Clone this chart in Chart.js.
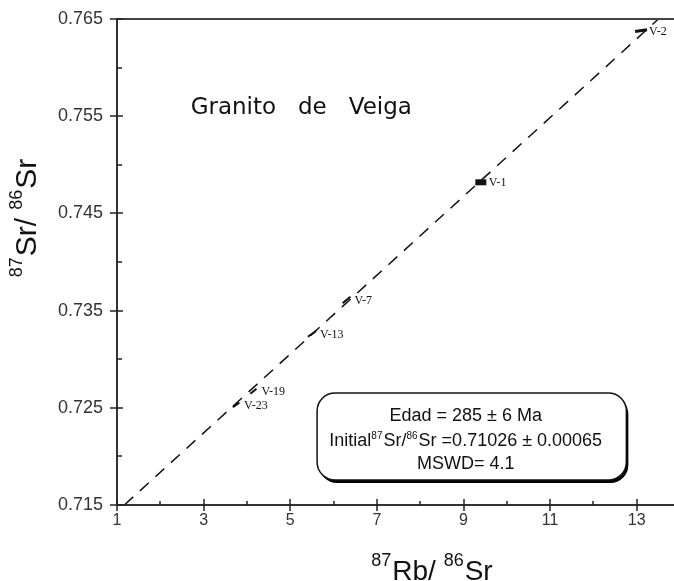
<!DOCTYPE html>
<html lang="es">
<head>
<meta charset="UTF-8">
<title>Granito de Veiga - isocrona Rb/Sr</title>
<script src="https://cdn.jsdelivr.net/npm/chart.js"></script>
<style>
  html, body { margin: 0; padding: 0; background: #fff; overflow: hidden; }
  canvas { display: block; }
</style>
</head>
<body>
<canvas id="iso" width="674" height="581"></canvas>
<script>
// muestras (87Rb/86Sr, 87Sr/86Sr)
const sampleNames = ['V-2', 'V-1', 'V-7', 'V-13', 'V-19', 'V-23'];
const rbSr = [13.1, 9.4, 6.3, 5.5, 4.15, 3.75];
const srSr = [0.7638, 0.7482, 0.7361, 0.7326, 0.7267, 0.7253];

// isocrona (extremos de la recta)
const isoX = [1.17, 13.5];
const isoY = [0.715, 0.765];

// ejes
const xMin = 1, xMax = 13.86;
const yMin = 0.715, yMax = 0.765;
const xLabels = [1, 3, 5, 7, 9, 11, 13];
const yLabels = [0.715, 0.725, 0.735, 0.745, 0.755, 0.765];

// textos
const plotTitle = 'Granito   de   Veiga';
const boxLines = ['Edad = 285 ± 6 Ma', 'Initial|87|Sr/|86|Sr =0.71026 ± 0.00065', 'MSWD= 4.1'];

// posicion del titulo y del recuadro (coordenadas de datos)
const titlePos = { x: 2.7, y: 0.7558 };
const boxPos = { x1: 5.62, x2: 12.76, y1: 0.72652, y2: 0.71757 };

const isLabelX = v => xLabels.some(l => Math.abs(l - v) < 1e-6);
const isLabelY = v => yLabels.some(l => Math.abs(l - v) < 1e-6);

// dibuja texto con superindices: partes alternas normal|sup|normal...
function partsWidth(ctx, parts, mainFont, supFont) {
  let w = 0;
  parts.forEach((p, i) => {
    ctx.font = i % 2 ? supFont : mainFont;
    w += ctx.measureText(p).width + (i % 2 ? 1 : 0);
  });
  return w;
}
function drawParts(ctx, parts, x, y, mainFont, supFont, rise) {
  let cx = x;
  parts.forEach((p, i) => {
    ctx.font = i % 2 ? supFont : mainFont;
    ctx.fillText(p, cx, i % 2 ? y - rise : y);
    cx += ctx.measureText(p).width + (i % 2 ? 1 : 0);
  });
}

const decor = {
  id: 'decor',
  afterDraw(chart) {
    const ctx = chart.ctx;
    const xs = chart.scales.x, ys = chart.scales.y;
    const a = chart.chartArea;
    ctx.save();

    // marco superior
    ctx.strokeStyle = '#444';
    ctx.lineWidth = 2;
    ctx.beginPath();
    ctx.moveTo(a.left, a.top);
    ctx.lineTo(a.right, a.top);
    ctx.stroke();

    // marcas de los ejes
    ctx.strokeStyle = '#222';
    ctx.lineWidth = 1.5;
    ys.ticks.forEach(t => {
      const py = Math.round(ys.getPixelForValue(t.value));
      ctx.beginPath();
      if (isLabelY(t.value)) { ctx.moveTo(a.left - 7, py); ctx.lineTo(a.left + 6, py); }
      else { ctx.moveTo(a.left, py); ctx.lineTo(a.left + 5, py); }
      ctx.stroke();
    });
    xs.ticks.forEach(t => {
      const px = Math.round(xs.getPixelForValue(t.value));
      ctx.beginPath();
      if (isLabelX(t.value)) { ctx.moveTo(px, a.bottom - 6); ctx.lineTo(px, a.bottom + 6); }
      else { ctx.moveTo(px, a.bottom - 4); ctx.lineTo(px, a.bottom); }
      ctx.stroke();
    });

    // etiquetas del eje x
    ctx.fillStyle = '#333';
    ctx.font = '16px "Liberation Sans"';
    ctx.textAlign = 'center';
    ctx.textBaseline = 'middle';
    xLabels.forEach(v => ctx.fillText(String(v), xs.getPixelForValue(v), a.bottom + 16));

    // etiquetas de muestras
    ctx.fillStyle = '#111';
    ctx.font = '12px "Liberation Serif"';
    ctx.textAlign = 'left';
    sampleNames.forEach((n, i) => {
      ctx.fillText(n, xs.getPixelForValue(rbSr[i]) + 8, ys.getPixelForValue(srSr[i]) + 1);
    });

    // titulo
    ctx.font = '23px "DejaVu Sans"';
    ctx.fillText(plotTitle, xs.getPixelForValue(titlePos.x), ys.getPixelForValue(titlePos.y));

    // recuadro
    const bx1 = xs.getPixelForValue(boxPos.x1), bx2 = xs.getPixelForValue(boxPos.x2);
    const by1 = ys.getPixelForValue(boxPos.y1), by2 = ys.getPixelForValue(boxPos.y2);
    ctx.fillStyle = '#000';
    ctx.beginPath();
    ctx.roundRect(bx1 + 2, by1 + 3, bx2 - bx1, by2 - by1, 18);
    ctx.fill();
    ctx.fillStyle = '#fff';
    ctx.strokeStyle = '#111';
    ctx.lineWidth = 1.5;
    ctx.beginPath();
    ctx.roundRect(bx1, by1, bx2 - bx1, by2 - by1, 18);
    ctx.fill();
    ctx.stroke();

    ctx.fillStyle = '#111';
    ctx.textBaseline = 'alphabetic';
    const cx = (bx1 + bx2) / 2 - 6;
    const fr = [0.32, 0.61, 0.87];
    boxLines.forEach((line, i) => {
      const parts = line.split('|');
      const mf = '18px "Liberation Sans"', sf = '10px "Liberation Sans"';
      const w = partsWidth(ctx, parts, mf, sf);
      drawParts(ctx, parts, cx - w / 2, by1 + (by2 - by1) * fr[i], mf, sf, 7);
    });

    // titulos de ejes
    const xt = ['', '87', 'Rb/ ', '86', 'Sr'];
    const xmf = '28px "Liberation Sans"', xsf = '18px "Liberation Sans"';
    const xw = partsWidth(ctx, xt, xmf, xsf);
    drawParts(ctx, xt, 432 - xw / 2, 580, xmf, xsf, 14);

    const yt = ['', '87', 'Sr/ ', '86', 'Sr'];
    const ymf = '30px "Liberation Sans"', ysf = '18px "Liberation Sans"';
    const yw = partsWidth(ctx, yt, ymf, ysf);
    ctx.translate(36, 218);
    ctx.rotate(-Math.PI / 2);
    drawParts(ctx, yt, -yw / 2, 0, ymf, ysf, 14);

    ctx.restore();
  }
};

new Chart(document.getElementById('iso'), {
  type: 'scatter',
  data: {
    datasets: [
      {
        type: 'line',
        data: isoX.map((x, i) => ({ x, y: isoY[i] })),
        borderColor: '#111',
        borderWidth: 1.5,
        borderDash: [12, 9],
        pointRadius: 0,
        fill: false
      },
      {
        data: rbSr.map((x, i) => ({ x, y: srSr[i] })),
        pointStyle: 'line',
        rotation: [-8, 0, -40, -35, -40, -35],
        radius: [6, 5.5, 5, 5, 4, 4],
        pointRadius: [6, 5.5, 5, 5, 4, 4],
        borderWidth: [3, 6, 2, 2, 2, 2],
        borderColor: '#111',
        backgroundColor: '#111',
        clip: false
      }
    ]
  },
  options: {
    responsive: false,
    animation: false,
    layout: { autoPadding: false, padding: { top: 19, right: 0, left: 0, bottom: 0 } },
    plugins: { legend: { display: false }, tooltip: { enabled: false }, title: { display: false } },
    scales: {
      x: {
        type: 'linear',
        min: xMin,
        max: xMax,
        grid: { display: false, drawTicks: false },
        border: { display: true, color: '#333', width: 2 },
        ticks: { display: false, stepSize: 1, includeBounds: false },
        afterFit: s => { s.height = 76; }
      },
      y: {
        type: 'linear',
        min: yMin,
        max: yMax,
        grid: { display: false, drawTicks: false },
        border: { display: true, color: '#333', width: 2 },
        ticks: {
          stepSize: 0.005,
          autoSkip: false,
          padding: 14,
          color: '#333',
          font: { family: 'Liberation Sans', size: 18 },
          callback: v => isLabelY(v) ? v.toFixed(3) : ''
        },
        afterFit: s => { s.width = 117; s.paddingTop = 0; s.paddingBottom = 0; }
      }
    }
  },
  plugins: [decor]
});
</script>
</body>
</html>
